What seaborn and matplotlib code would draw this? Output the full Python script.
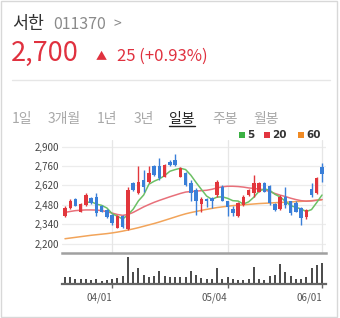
import matplotlib
matplotlib.use("Agg")
import matplotlib.pyplot as plt
import seaborn as sns
import pandas as pd
import numpy as np
from matplotlib.patches import Rectangle
from matplotlib.lines import Line2D

# ---------------- data ----------------
opens  = [2400, 2455, 2523, 2431, 2479, 2528, 2540, 2472, 2443, 2407,
          2316, 2400, 2306, 2636, 2568, 2660, 2643, 2761, 2761, 2684,
          2792, 2804, 2684, 2708, 2636, 2588, 2487, 2520, 2532, 2552,
          2612, 2504, 2451, 2400, 2479, 2552, 2564, 2576, 2636, 2617,
          2487, 2448, 2540, 2504, 2496, 2455, 2390, 2593, 2564, 2750]
highs  = [2472, 2523, 2530, 2495, 2568, 2535, 2564, 2480, 2450, 2415,
          2405, 2405, 2607, 2645, 2760, 2732, 2761, 2770, 2816, 2775,
          2800, 2847, 2750, 2715, 2660, 2600, 2540, 2528, 2540, 2660,
          2620, 2510, 2472, 2500, 2548, 2595, 2696, 2645, 2645, 2625,
          2495, 2548, 2612, 2510, 2505, 2465, 2450, 2636, 2680, 2780]
lows   = [2390, 2448, 2470, 2425, 2472, 2485, 2400, 2425, 2385, 2335,
          2310, 2310, 2299, 2580, 2560, 2576, 2636, 2690, 2660, 2680,
          2760, 2761, 2680, 2615, 2504, 2407, 2431, 2463, 2455, 2540,
          2505, 2400, 2400, 2390, 2470, 2545, 2540, 2570, 2570, 2480,
          2435, 2440, 2455, 2410, 2425, 2335, 2380, 2540, 2560, 2648]
closes = [2455, 2508, 2475, 2487, 2552, 2491, 2419, 2431, 2390, 2347,
          2400, 2318, 2588, 2588, 2648, 2612, 2708, 2696, 2672, 2768,
          2768, 2768, 2744, 2624, 2564, 2504, 2520, 2504, 2504, 2648,
          2511, 2467, 2419, 2491, 2540, 2588, 2636, 2636, 2576, 2491,
          2443, 2540, 2479, 2419, 2431, 2383, 2443, 2552, 2675, 2700]
ma20   = [2425, 2432, 2438, 2441, 2443, 2443, 2442, 2438, 2430, 2420,
          2410, 2404, 2410, 2425, 2445, 2465, 2482, 2498, 2512, 2525,
          2538, 2550, 2562, 2572, 2576, 2579, 2582, 2585, 2592, 2602,
          2610, 2614, 2614, 2612, 2608, 2602, 2598, 2594, 2588, 2576,
          2562, 2550, 2540, 2528, 2518, 2510, 2506, 2508, 2513, 2518]
ma60   = [2235, 2240, 2245, 2250, 2255, 2260, 2264, 2268, 2272, 2277,
          2283, 2290, 2298, 2306, 2315, 2325, 2335, 2345, 2356, 2368,
          2380, 2392, 2404, 2415, 2424, 2432, 2440, 2447, 2454, 2460,
          2465, 2470, 2474, 2477, 2480, 2483, 2486, 2489, 2491, 2493,
          2495, 2497, 2499, 2501, 2503, 2505, 2507, 2510, 2513, 2517]
volume = [73, 67, 47, 47, 53, 40, 47, 33, 40, 47,
          60, 80, 273, 117, 160, 90, 73, 80, 133, 83,
          67, 67, 67, 73, 127, 93, 60, 47, 53, 160,
          53, 67, 47, 40, 40, 47, 173, 47, 40, 80,
          93, 200, 117, 80, 53, 53, 73, 160, 187, 207]
y_ticks = [2200, 2340, 2480, 2620, 2760, 2900]
x_tick_idx = [9, 31, 49]
x_tick_labels = ["04/01", "05/04", "06/01"]
tabs = ["1일", "3개월", "1년", "3년", "일봉", "주봉", "월봉"]
legend_labels = ["5", "20", "60"]

# ---------------- style ----------------
sns.set_theme(style="white")
plt.rcParams['font.family'] = ['Noto Sans CJK KR', 'DejaVu Sans']

RED = "#e0313f"
UP = "#e2363c"
DOWN = "#3a7fd8"
C5, C20, C60 = "#6cc065", "#e8707a", "#f2a45a"

W, H = 340, 318
fig = plt.figure(figsize=(W / 100, H / 100), dpi=100)


def fx(x):
    return x / W


def fy(y):
    return 1 - y / H


# outer frame
fig.add_artist(Rectangle((fx(0.5), fy(316.5)), fx(336.5), 316 / H, transform=fig.transFigure,
                         fill=False, edgecolor="#d8d8d8", lw=1))

# header
fig.text(fx(12), fy(29), "서한", fontsize=12.5, color="#333333", va="baseline", ha="left")
fig.text(fx(53), fy(29), "011370", fontsize=11.5, color="#8a8a8a", va="baseline", ha="left")
fig.text(fx(114), fy(28), ">", fontsize=10, color="#8a8a8a", va="baseline", ha="left")
fig.text(fx(11), fy(61), "2,700", fontsize=19.5, color=RED, va="baseline", ha="left")
fig.text(fx(96), fy(60), "▲", fontsize=8, color=RED, va="baseline", ha="left")
fig.text(fx(117), fy(61), "25 (+0.93%)", fontsize=12, color=RED, va="baseline", ha="left")
fig.add_artist(Line2D([fx(12), fx(330)], [fy(79.5), fy(79.5)], transform=fig.transFigure,
                      color="#e6e6e6", lw=1))

# tabs
tab_x = [12, 48, 97, 134, 169, 212, 253]
for t, x in zip(tabs, tab_x):
    col = "#222222" if t == "일봉" else "#a8a8a8"
    fig.text(fx(x), fy(123), t, fontsize=10, color=col, va="baseline", ha="left")
fig.add_artist(Line2D([fx(169), fx(195)], [fy(125.5), fy(125.5)], transform=fig.transFigure,
                      color="#222222", lw=1))

# legend
leg_sq = [239, 264, 298]
for lab, x, c in zip(legend_labels, leg_sq, ["#3bb143", "#e2353f", "#f08a24"]):
    fig.add_artist(Rectangle((fx(x), fy(137.5)), 6 / W, 6 / H, transform=fig.transFigure,
                             facecolor=c, edgecolor="none"))
    fig.text(fx(x + 8), fy(138), lab, fontsize=7.5, fontweight="bold", color="#333333",
             va="baseline", ha="left", family=["DejaVu Sans"])

# ---------------- price axes ----------------
ax = fig.add_axes([fx(62), fy(253), (326 - 62) / W, (253 - 140) / H])
idx = np.arange(len(closes))
o = np.array(opens, float)
c = np.array(closes, float)
hi = np.array(highs, float)
lo = np.array(lows, float)

ax.set_xlim(-0.57, 49.76)
ax.set_ylim(2132, 2948)
for yt in y_ticks:
    ax.axhline(yt, color="#ececec", lw=0.9, zorder=0)
for xt in x_tick_idx:
    ax.axvline(xt, color="#e6e6e6", lw=0.9, zorder=0)

ma5 = pd.Series(c).rolling(5).mean()
df = pd.DataFrame({"i": idx, "ma5": ma5, "ma20": ma20, "ma60": ma60})
sns.lineplot(data=df, x="i", y="ma60", ax=ax, color=C60, lw=1.1, zorder=2)
sns.lineplot(data=df, x="i", y="ma20", ax=ax, color=C20, lw=1.1, zorder=2)
sns.lineplot(data=df, x="i", y="ma5", ax=ax, color=C5, lw=1.1, zorder=2)

cols = [UP if cc >= oo else DOWN for oo, cc in zip(o, c)]
ax.vlines(idx, lo, hi, colors=cols, lw=1, zorder=3)
body_h = np.maximum(np.abs(c - o), 6)
ax.bar(idx, body_h, bottom=np.minimum(o, c), width=0.66, color=cols, lw=0, zorder=4)

ax.set_yticks(y_ticks)
ax.set_yticklabels([f"{v:,}" for v in y_ticks])
ax.tick_params(axis="y", length=0, pad=2.2, labelsize=7, labelcolor="#444444")
ax.set_xticks([])
ax.set_xlabel("")
ax.set_ylabel("")
for s in ["top", "right", "left"]:
    ax.spines[s].set_visible(False)
ax.spines["bottom"].set_color("#a0a0a0")
ax.spines["bottom"].set_linewidth(1.8)

# ---------------- volume axes ----------------
axv = fig.add_axes([fx(62), fy(284), (326 - 62) / W, (284 - 253) / H])
vdf = pd.DataFrame({"i": idx, "v": volume})
sns.barplot(data=vdf, x="i", y="v", native_scale=True, color="#4d4d4d", saturation=1,
            width=0.38, linewidth=0, ax=axv)
axv.set_xlim(-0.57, 49.76)
axv.set_ylim(0, 310)
axv.set_yticks([])
axv.set_xticks(x_tick_idx)
axv.set_xticklabels(x_tick_labels, ha="right")
axv.tick_params(axis="x", length=3, width=1, color="#666666", pad=3, labelsize=7,
                labelcolor="#555555", bottom=True, direction="out")
axv.set_xlabel("")
axv.set_ylabel("")
axv.patch.set_alpha(0)
for s in ["top", "right", "left"]:
    axv.spines[s].set_visible(False)
axv.spines["bottom"].set_color("#666666")
axv.spines["bottom"].set_linewidth(1.6)

fig.savefig("out.png", dpi=100)
